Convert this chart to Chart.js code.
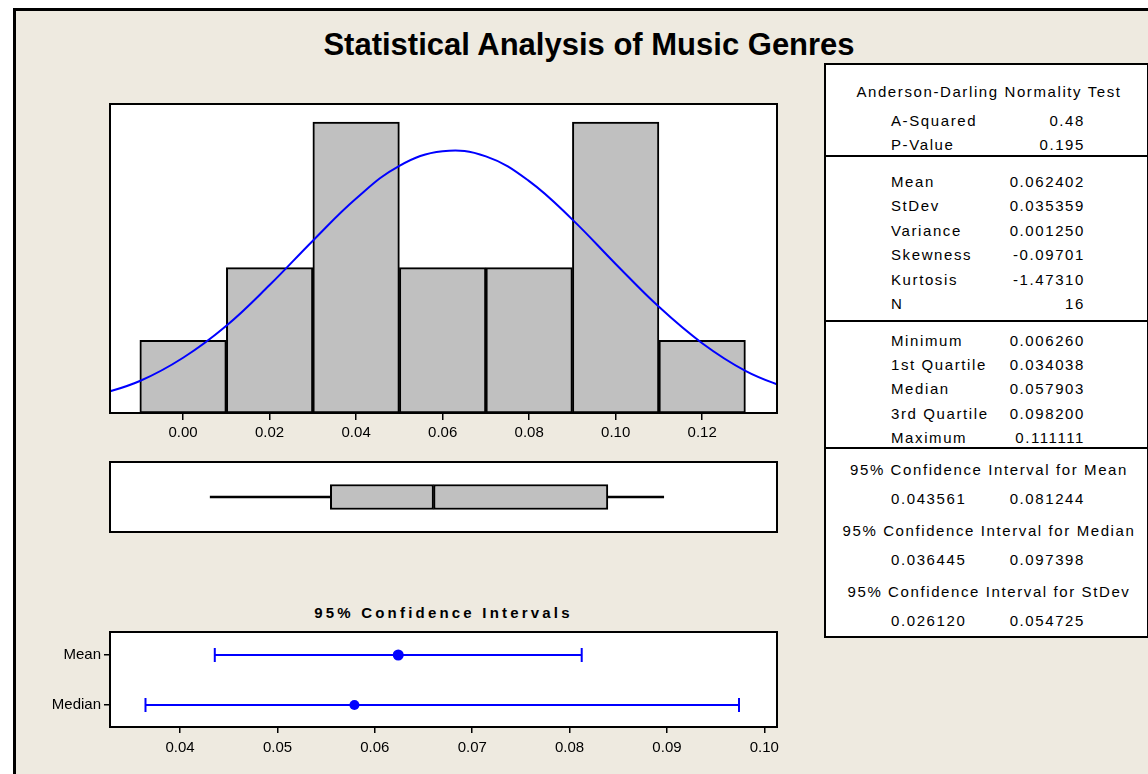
<!DOCTYPE html>
<html>
<head>
<meta charset="utf-8">
<script src="https://cdn.jsdelivr.net/npm/chart.js@4/dist/chart.umd.min.js"></script>
<style>
  html, body { margin: 0; padding: 0; width: 1148px; height: 774px; overflow: hidden; background: #fff; }
  body { position: relative; font-family: "Liberation Sans", Arial, sans-serif; color: #000; }
  #frame { position: absolute; left: 13px; top: 8px; width: 1200px; height: 800px; border: 3px solid #000; background: #eeeae0; }
  canvas { position: absolute; }
  .title { position: absolute; left: 0; width: 1178px; top: 28px; text-align: center; font-weight: bold; font-size: 31px; line-height: 34px; }
  .subtitle { position: absolute; left: 110px; width: 667px; top: 603px; text-align: center; font-weight: bold; font-size: 15px; line-height: 20px; letter-spacing: 3.2px; }
  #stats { position: absolute; left: 824px; top: 63px; width: 321px; height: 571px; border: 2px solid #000; background: #fff; }
  .rule { position: absolute; left: 824px; width: 325px; height: 2px; background: #000; }
  .t { position: absolute; font-size: 15px; line-height: 20px; letter-spacing: 1.6px; white-space: nowrap; }
</style>
</head>
<body>
<div id="frame"></div>
<div class="title">Statistical Analysis of Music Genres</div>
<div class="subtitle">95% Confidence Intervals</div>
<canvas id="hist" width="740" height="360" style="left:60px;top:94px"></canvas>
<canvas id="box" width="687" height="90" style="left:100px;top:452px"></canvas>
<canvas id="ci" width="760" height="150" style="left:40px;top:620px"></canvas>
<div id="stats"></div>
<div id="table"></div>
<script>
// histogram
const binCenters = [0.00, 0.02, 0.04, 0.06, 0.08, 0.10, 0.12];
const binCounts = [1, 2, 4, 2, 2, 4, 1];
const histTicks = [0.00, 0.02, 0.04, 0.06, 0.08, 0.10, 0.12];
// fitted normal curve (height in counts)
const curveX = [-0.02, -0.01, 0.00, 0.01, 0.02, 0.03, 0.04, 0.05, 0.06, 0.07, 0.08, 0.09, 0.10, 0.11, 0.12, 0.13, 0.14];
const curveY = [0.24, 0.44, 0.76, 1.20, 1.76, 2.37, 2.95, 3.40, 3.60, 3.53, 3.19, 2.66, 2.05, 1.46, 0.96, 0.58, 0.33];
// boxplot: min, q1, median, q3, max
const boxStats = [0.006260, 0.034038, 0.057903, 0.098200, 0.111111];
// confidence intervals
const ciRows = ['Mean', 'Median'];
const ciCenters = [0.062402, 0.057903];
const ciLower = [0.043561, 0.036445];
const ciUpper = [0.081244, 0.097398];
const ciTicks = [0.04, 0.05, 0.06, 0.07, 0.08, 0.09, 0.10];
// summary table
const adLabels = ['A-Squared', 'P-Value'];
const adValues = ['0.48', '0.195'];
const descLabels = ['Mean', 'StDev', 'Variance', 'Skewness', 'Kurtosis', 'N'];
const descValues = ['0.062402', '0.035359', '0.001250', '-0.09701', '-1.47310', '16'];
const quartLabels = ['Minimum', '1st Quartile', 'Median', '3rd Quartile', 'Maximum'];
const quartValues = ['0.006260', '0.034038', '0.057903', '0.098200', '0.111111'];
const ciTitles = ['95% Confidence Interval for Mean', '95% Confidence Interval for Median', '95% Confidence Interval for StDev'];
const ciLowVals = ['0.043561', '0.036445', '0.026120'];
const ciHighVals = ['0.081244', '0.097398', '0.054725'];

const BLUE = '#0000ff';
const GREY = '#c0c0c0';
const FONT = { family: '"Liberation Sans", Arial, sans-serif', size: 15 };

const framePlugin = {
  id: 'frame',
  beforeDraw(chart) {
    const a = chart.chartArea, ctx = chart.ctx;
    ctx.save();
    ctx.fillStyle = '#fff';
    ctx.fillRect(a.left, a.top, a.right - a.left, a.bottom - a.top);
    ctx.restore();
  },
  afterDraw(chart) {
    const a = chart.chartArea, ctx = chart.ctx;
    ctx.save();
    ctx.strokeStyle = '#000';
    ctx.lineWidth = 2;
    ctx.strokeRect(a.left, a.top, a.right - a.left, a.bottom - a.top);
    ctx.restore();
  }
};

Chart.defaults.animation = false;
Chart.defaults.font.family = FONT.family;
Chart.defaults.color = '#000';
Chart.defaults.plugins.legend.display = false;
Chart.defaults.plugins.tooltip.enabled = false;

function setTicks(vals) {
  return scale => { scale.ticks = vals.map(v => ({ value: v })); };
}

const X_MIN = -0.0169, X_MAX = 0.1373;

new Chart(document.getElementById('hist'), {
  type: 'bar',
  data: {
    datasets: [
      {
        type: 'line',
        data: curveX.map((x, i) => ({ x: x, y: curveY[i] })),
        borderColor: BLUE,
        borderWidth: 2,
        pointRadius: 0,
        tension: 0.4,
        order: 0
      },
      {
        data: binCenters.map((x, i) => ({ x: x, y: binCounts[i] })),
        backgroundColor: GREY,
        borderColor: '#000',
        borderWidth: 2,
        borderSkipped: false,
        barPercentage: 1,
        categoryPercentage: 1,
        order: 1
      }
    ]
  },
  options: {
    responsive: false,
    layout: { padding: { left: 50, right: 23, top: 10, bottom: 1 } },
    scales: {
      x: {
        type: 'linear', min: X_MIN, max: X_MAX, offset: false,
        afterBuildTicks: setTicks(histTicks),
        afterFit: s => { s.height = 40; },
        border: { display: false },
        grid: { drawOnChartArea: false, offset: false, tickLength: 7, color: '#000', lineWidth: 1.5 },
        ticks: { font: FONT, padding: 4, maxRotation: 0, callback: v => v.toFixed(2) }
      },
      y: { min: 0, max: 4.25, display: false }
    }
  },
  plugins: [framePlugin]
});

new Chart(document.getElementById('box'), {
  type: 'bar',
  data: {
    labels: ['box'],
    datasets: [
      { data: [[boxStats[0], boxStats[1]]], backgroundColor: '#000', borderWidth: 0, barThickness: 2, grouped: false },
      { data: [[boxStats[1], boxStats[2]]], backgroundColor: GREY, borderColor: '#000', borderWidth: 2, borderSkipped: false, barThickness: 25, grouped: false },
      { data: [[boxStats[2], boxStats[3]]], backgroundColor: GREY, borderColor: '#000', borderWidth: 2, borderSkipped: false, barThickness: 25, grouped: false },
      { data: [[boxStats[3], boxStats[4]]], backgroundColor: '#000', borderWidth: 0, barThickness: 2, grouped: false }
    ]
  },
  options: {
    responsive: false,
    indexAxis: 'y',
    layout: { padding: 10 },
    scales: {
      x: { type: 'linear', min: X_MIN, max: X_MAX, display: false },
      y: { display: false }
    }
  },
  plugins: [framePlugin]
});

const ciDatasets = [];
ciRows.forEach((name, i) => {
  ciDatasets.push({
    type: 'line',
    data: [{ x: ciLower[i], y: i + 1 }, { x: ciUpper[i], y: i + 1 }],
    borderColor: BLUE,
    borderWidth: 2,
    pointStyle: 'line',
    rotation: 90,
    pointRadius: 7,
    pointBorderColor: BLUE,
    pointBorderWidth: 2
  });
  ciDatasets.push({
    type: 'scatter',
    data: [{ x: ciCenters[i], y: i + 1 }],
    pointRadius: i === 0 ? 5.5 : 5,
    backgroundColor: BLUE,
    borderColor: BLUE,
    borderWidth: 0
  });
});

new Chart(document.getElementById('ci'), {
  type: 'scatter',
  data: { datasets: ciDatasets },
  options: {
    responsive: false,
    layout: { padding: { left: 10, right: 23, top: 8, bottom: 3 } },
    scales: {
      x: {
        type: 'linear', min: 0.0328, max: 0.1013,
        afterBuildTicks: setTicks(ciTicks),
        afterFit: s => { s.height = 40; },
        border: { display: false },
        grid: { drawOnChartArea: false, tickLength: 6, color: '#000', lineWidth: 1.5 },
        ticks: { font: FONT, padding: 6, maxRotation: 0, callback: v => v.toFixed(2) }
      },
      y: {
        type: 'linear', reverse: true, min: 0.54, max: 2.44,
        afterBuildTicks: setTicks([1, 2]),
        afterFit: s => { s.width = 60; },
        border: { display: false },
        grid: { drawOnChartArea: false, tickLength: 6, color: '#000', lineWidth: 1.5 },
        ticks: { font: FONT, padding: 3, callback: v => ciRows[v - 1] }
      }
    }
  },
  plugins: [framePlugin]
});

// summary table (text as html)
const table = document.getElementById('table');
function addText(txt, y, opts) {
  const d = document.createElement('div');
  d.className = 't';
  d.textContent = txt;
  d.style.top = (y - 10) + 'px';
  if (opts.left !== undefined) d.style.left = opts.left + 'px';
  if (opts.right !== undefined) { d.style.left = (opts.right - 200) + 'px'; d.style.width = '200px'; d.style.textAlign = 'right'; }
  if (opts.center !== undefined) { d.style.left = (opts.center - 170) + 'px'; d.style.width = '340px'; d.style.textAlign = 'center'; }
  table.appendChild(d);
}
[156, 321, 448].forEach(y => {
  const r = document.createElement('div');
  r.className = 'rule';
  r.style.top = (y - 1) + 'px';
  table.appendChild(r);
});
const LX = 891, RX = 1085, CX = 989;
addText('Anderson-Darling Normality Test', 92, { center: CX });
adLabels.forEach((l, i) => { addText(l, 121 + i * 24, { left: LX }); addText(adValues[i], 121 + i * 24, { right: RX }); });
descLabels.forEach((l, i) => { addText(l, 182 + i * 24.4, { left: LX }); addText(descValues[i], 182 + i * 24.4, { right: RX }); });
quartLabels.forEach((l, i) => { addText(l, 341 + i * 24.2, { left: LX }); addText(quartValues[i], 341 + i * 24.2, { right: RX }); });
ciTitles.forEach((l, i) => {
  const y = 470 + i * 61;
  addText(l, y, { center: CX });
  addText(ciLowVals[i], y + 29, { left: LX });
  addText(ciHighVals[i], y + 29, { right: RX });
});
</script>
</body>
</html>
